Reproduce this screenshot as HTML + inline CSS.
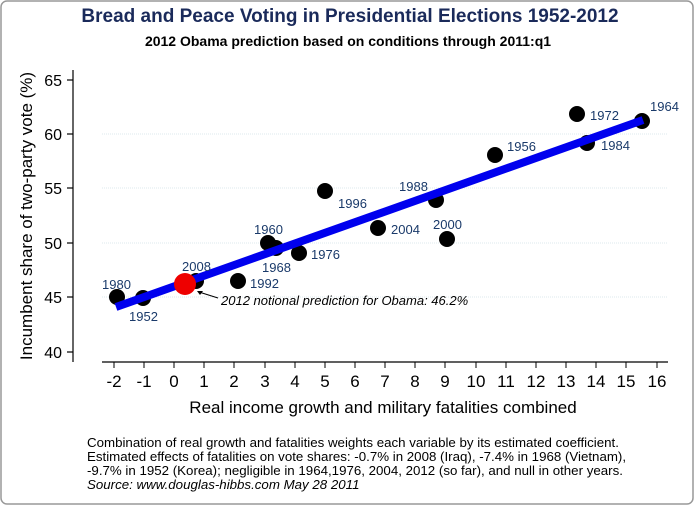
<!DOCTYPE html>
<html><head><style>
body{margin:0;background:#fff;}
</style></head><body>
<svg width="695" height="506" xmlns="http://www.w3.org/2000/svg" font-family="Liberation Sans, Arial, sans-serif">
<rect x="1" y="1" width="692" height="503" rx="6" fill="#fff" stroke="#999" stroke-width="1.5"/>
<text x="350" y="22" text-anchor="middle" font-size="19" font-weight="bold" fill="#1a2a5a">Bread and Peace Voting in Presidential Elections 1952-2012</text>
<text x="348" y="46" text-anchor="middle" font-size="14" font-weight="bold" fill="#000">2012 Obama prediction based on conditions through 2011:q1</text>
<g stroke="#dde8ee" stroke-width="1" stroke-dasharray="1,1">
<line x1="102" x2="668" y1="134" y2="134"/><line x1="102" x2="668" y1="188" y2="188"/>
<line x1="102" x2="668" y1="243" y2="243"/><line x1="102" x2="668" y1="297" y2="297"/>
</g>
<line x1="73" y1="70" x2="73" y2="362" stroke="#000" stroke-width="1.2"/>
<line x1="102" y1="362" x2="668" y2="362" stroke="#000" stroke-width="1.2"/>
<g stroke="#000" stroke-width="1.2">
<line x1="67" x2="73" y1="80" y2="80"/><line x1="67" x2="73" y1="134" y2="134"/><line x1="67" x2="73" y1="188" y2="188"/><line x1="67" x2="73" y1="243" y2="243"/><line x1="67" x2="73" y1="297" y2="297"/><line x1="67" x2="73" y1="352" y2="352"/>
</g>
<g font-size="16" text-anchor="end" fill="#000">
<text x="62" y="86">65</text><text x="62" y="140">60</text><text x="62" y="194">55</text><text x="62" y="249">50</text><text x="62" y="303">45</text><text x="62" y="358">40</text>
</g>
<g font-size="17" text-anchor="middle" fill="#000">
<line x1="114" x2="114" y1="362" y2="368" stroke="#000"/><text x="114" y="387">-2</text>
<line x1="144" x2="144" y1="362" y2="368" stroke="#000"/><text x="144" y="387">-1</text>
<line x1="174" x2="174" y1="362" y2="368" stroke="#000"/><text x="174" y="387">0</text>
<line x1="204" x2="204" y1="362" y2="368" stroke="#000"/><text x="204" y="387">1</text>
<line x1="234" x2="234" y1="362" y2="368" stroke="#000"/><text x="234" y="387">2</text>
<line x1="265" x2="265" y1="362" y2="368" stroke="#000"/><text x="265" y="387">3</text>
<line x1="295" x2="295" y1="362" y2="368" stroke="#000"/><text x="295" y="387">4</text>
<line x1="325" x2="325" y1="362" y2="368" stroke="#000"/><text x="325" y="387">5</text>
<line x1="355" x2="355" y1="362" y2="368" stroke="#000"/><text x="355" y="387">6</text>
<line x1="385" x2="385" y1="362" y2="368" stroke="#000"/><text x="385" y="387">7</text>
<line x1="415" x2="415" y1="362" y2="368" stroke="#000"/><text x="415" y="387">8</text>
<line x1="445" x2="445" y1="362" y2="368" stroke="#000"/><text x="445" y="387">9</text>
<line x1="476" x2="476" y1="362" y2="368" stroke="#000"/><text x="476" y="387">10</text>
<line x1="506" x2="506" y1="362" y2="368" stroke="#000"/><text x="506" y="387">11</text>
<line x1="536" x2="536" y1="362" y2="368" stroke="#000"/><text x="536" y="387">12</text>
<line x1="566" x2="566" y1="362" y2="368" stroke="#000"/><text x="566" y="387">13</text>
<line x1="596" x2="596" y1="362" y2="368" stroke="#000"/><text x="596" y="387">14</text>
<line x1="626" x2="626" y1="362" y2="368" stroke="#000"/><text x="626" y="387">15</text>
<line x1="657" x2="657" y1="362" y2="368" stroke="#000"/><text x="657" y="387">16</text>
</g>
<text x="383" y="413" text-anchor="middle" font-size="17">Real income growth and military fatalities combined</text>
<text transform="translate(32,216) rotate(-90)" text-anchor="middle" font-size="17">Incumbent share of two-party vote (%)</text>
<g fill="#000">
<circle cx="117" cy="297" r="8"/><circle cx="143" cy="298" r="8"/><circle cx="196" cy="281" r="8"/>
<circle cx="238" cy="281" r="8"/><circle cx="268" cy="243" r="8"/><circle cx="276" cy="248" r="8"/>
<circle cx="299" cy="253" r="8"/><circle cx="325" cy="191" r="8"/><circle cx="378" cy="228" r="8"/>
<circle cx="436" cy="200" r="8"/><circle cx="447" cy="239" r="8"/><circle cx="495" cy="155" r="8"/>
<circle cx="577" cy="114" r="8"/><circle cx="587" cy="143" r="8"/><circle cx="642" cy="121" r="8"/>
</g>
<line x1="116" y1="307" x2="643" y2="120" stroke="#0000ee" stroke-width="8"/>
<circle cx="185" cy="284" r="11" fill="#ee0000"/>
<g font-size="13" fill="#1a3a6a">
<text x="102" y="289">1980</text><text x="129" y="321">1952</text><text x="182" y="271">2008</text>
<text x="250" y="288">1992</text><text x="254" y="234">1960</text><text x="262" y="272">1968</text>
<text x="311" y="259">1976</text><text x="338" y="208">1996</text><text x="391" y="234">2004</text>
<text x="399" y="191">1988</text><text x="433" y="229">2000</text><text x="507" y="151">1956</text>
<text x="590" y="120">1972</text><text x="601" y="150">1984</text><text x="650" y="111">1964</text>
</g>
<line x1="218" y1="298" x2="199" y2="292" stroke="#000" stroke-width="1"/>
<path d="M197,291 l6,0 l-3,4z" fill="#000"/>
<text x="221" y="305" font-size="13" font-style="italic">2012 notional prediction for Obama: 46.2%</text>
<g font-size="13.3" fill="#000">
<text x="87" y="447">Combination of real growth and fatalities weights each variable by its estimated coefficient.</text>
<text x="87" y="461">Estimated effects of fatalities on vote shares: -0.7% in 2008 (Iraq), -7.4% in 1968 (Vietnam),</text>
<text x="87" y="475">-9.7% in 1952 (Korea); negligible in 1964,1976, 2004, 2012 (so far), and null in other years.</text>
<text x="87" y="489" font-style="italic">Source: www.douglas-hibbs.com May 28 2011</text>
</g>
</svg>
</body></html>
